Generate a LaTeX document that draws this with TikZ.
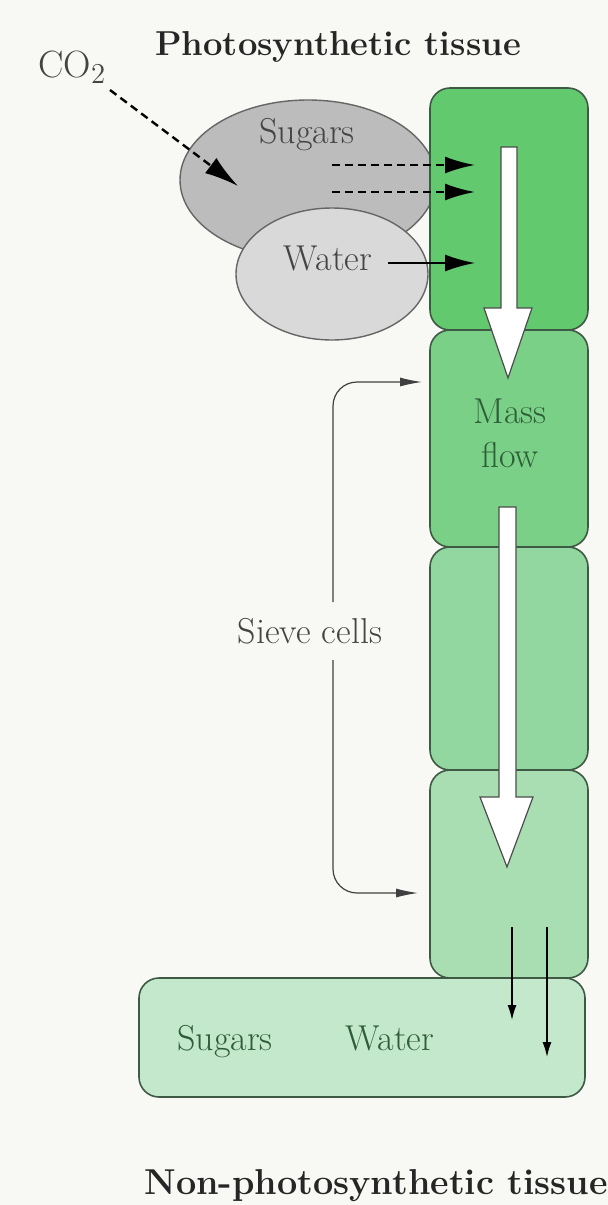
\documentclass[tikz,border=0pt]{standalone}
\usetikzlibrary{arrows.meta,shapes.geometric}
\definecolor{bgc}{HTML}{F8F8F4}
\definecolor{cellA}{HTML}{62C96E}
\definecolor{cellB}{HTML}{7BD088}
\definecolor{cellC}{HTML}{92D79F}
\definecolor{cellD}{HTML}{A9DEB3}
\definecolor{cellE}{HTML}{C4E8CC}
\definecolor{sugc}{HTML}{BDBCBC}
\definecolor{watc}{HTML}{DAD9D9}
\definecolor{edgec}{HTML}{3E5A45}
\definecolor{txtgray}{HTML}{444444}
\definecolor{txtgreen}{HTML}{2E5E38}
\begin{document}
\begin{tikzpicture}[x=0.5pt,y=-0.5pt,
  bodyfont/.style={font=\fontsize{18}{22}\selectfont},
  titlefont/.style={font=\fontsize{17.3}{20}\selectfont\bfseries, text=black!85},
  cellbox/.style={draw=edgec, line width=0.8pt, rounded corners=10pt, minimum width=79pt, inner sep=0pt},
  blob/.style={ellipse, draw=black!60, line width=0.7pt, inner sep=0pt},
  bigtip/.style={-{Latex[length=15pt,width=8.5pt]}, line width=1.2pt, black},
  dashline/.style={dash pattern=on 4pt off 2.5pt},
  thinarrow/.style={-{Latex[length=7.5pt,width=4.5pt]}, line width=0.7pt, black},
  sievearrow/.style={-{Latex[length=11pt,width=4.5pt]}, line width=0.6pt, black!75, rounded corners=12pt},
  hollow/.style={fill=white, draw=black!70, line width=0.6pt, line join=miter}
]
\fill[bgc] (0,0) rectangle (608,1205);
\useasboundingbox (0,0) rectangle (608,1205);

% titles
\node[titlefont, anchor=base] (ttop) at (338,55) {Photosynthetic tissue};
\node[titlefont, font=\fontsize{18}{20}\selectfont\bfseries, anchor=base] (tbot) at (376,1194) {Non-photosynthetic tissue};

% ellipses
\node[blob, fill=sugc, minimum width=128pt, minimum height=80pt] (sug) at (308,180) {};
\node[blob, fill=watc, minimum width=96pt, minimum height=66pt] (wat) at (332,274) {};
\node[bodyfont, text=txtgray, anchor=base] (sugt) at (307,143) {Sugars};
\node[bodyfont, text=txtgray, anchor=base] (watt) at (328,270) {Water};

% CO2
\node[font=\fontsize{19}{22}\selectfont, text=txtgray, anchor=base west, inner sep=0pt] (co2) at (38,77) {CO$_2$};

% cells
\node[cellbox, fill=cellE, minimum width=223pt, minimum height=59.5pt] (sink) at (362,1037.5) {};
\node[cellbox, fill=cellA, minimum height=121pt] (c1) at (509,209) {};
\node[cellbox, fill=cellB, minimum height=108.5pt] (c2) at (509,438.5) {};
\node[cellbox, fill=cellC, minimum height=111.5pt] (c3) at (509,658.5) {};
\node[cellbox, fill=cellD, minimum height=104pt] (c4) at (509,874) {};

% text in cells
\node[bodyfont, text=txtgreen, align=center, inner sep=0pt] (mass) at (510,433) {Mass\\flow};
\node[bodyfont, text=txtgreen, anchor=base] (ssug) at (225,1050) {Sugars};
\node[bodyfont, text=txtgreen, anchor=base] (swat) at (390,1050) {Water};

% big hollow arrows
\draw[hollow] (501,147) -- (517,147) -- (517,308) -- (532,308) -- (508,378)
   -- (484,308) -- (501,308) -- cycle;
\draw[hollow] (499,507) -- (516,507) -- (516,797) -- (533,797) -- (507,867)
   -- (480,797) -- (499,797) -- cycle;

% CO2 arrow
\coordinate (co2s) at (110,90);
\coordinate (co2e) at (238,186);
\draw[bigtip, dashline, -{Latex[length=17pt,width=9.5pt]}] (co2s) -- (co2e);

% sugar / water arrows into cell
\coordinate (d1s) at (332,165);
\coordinate (d1e) at (475,165);
\coordinate (d2s) at (332,192);
\coordinate (d2e) at (475,192);
\coordinate (ws) at (388,263);
\coordinate (we) at (475,263);
\draw[bigtip, dashline] (d1s) -- (d1e);
\draw[bigtip, dashline] (d2s) -- (d2e);
\draw[bigtip, line width=1pt] (ws) -- (we);

% sieve cells label and brackets
\node[bodyfont, text=txtgray, anchor=base] (sieve) at (310,643) {Sieve cells};
\coordinate (sv1) at (333,602);
\coordinate (sv2) at (333,660);
\coordinate (t2) at (422,382);
\coordinate (t4) at (418,893);
\draw[sievearrow] (sv1) |- (t2);
\draw[sievearrow] (sv2) |- (t4);

% unloading arrows
\coordinate (u1s) at (512,927);
\coordinate (u1e) at (512,1020);
\coordinate (u2s) at (547,927);
\coordinate (u2e) at (547,1057);
\draw[thinarrow] (u1s) -- (u1e);
\draw[thinarrow] (u2s) -- (u2e);
\end{tikzpicture}
\end{document}
